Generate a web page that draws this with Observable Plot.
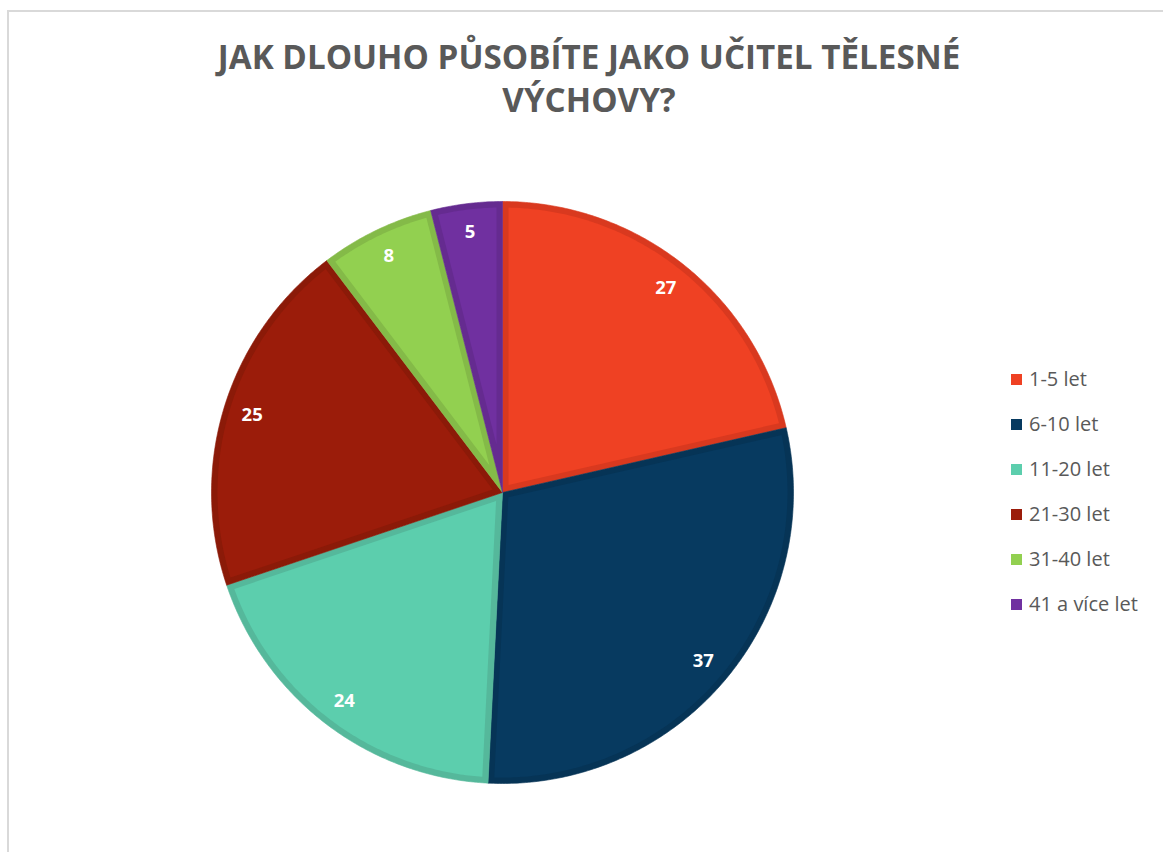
<!DOCTYPE html>
<html>
<head>
<meta charset="utf-8">
<script src="https://cdn.jsdelivr.net/npm/d3@7"></script>
<script src="https://cdn.jsdelivr.net/npm/@observablehq/plot@0.6"></script>
<style>
  html, body { margin: 0; padding: 0; background: #fff; overflow: hidden; }
  #wrap { position: relative; width: 1163px; height: 852px; overflow: hidden; background: #fff; }
  #frame { position: absolute; left: 7px; top: 10px; width: 1300px; height: 1000px; border: 2px solid #d9d9d9; box-sizing: border-box; }
  #title { position: absolute; left: 0; top: 35px; width: 1178px; text-align: center; font-family: "Open Sans", sans-serif; font-weight: 700; font-size: 33.2px; line-height: 43px; color: #595959; }
  #chart { position: absolute; left: 0; top: 0; }
  #legend { position: absolute; left: 1011px; top: 365px; font-family: "Open Sans", sans-serif; font-size: 20px; color: #595959; }
  .item { height: 45px; display: flex; align-items: flex-start; }
  .sw { width: 11px; height: 11px; margin-top: 9px; margin-right: 7px; }
</style>
</head>
<body>
<div id="wrap">
  <div id="frame"></div>
  <div id="chart"></div>
  <div id="title">JAK DLOUHO PŮSOBÍTE JAKO UČITEL TĚLESNÉ<br>VÝCHOVY?</div>
  <div id="legend"></div>
</div>
<script>
// Data
const categories = ["1-5 let", "6-10 let", "11-20 let", "21-30 let", "31-40 let", "41 a více let"];
const values = [27, 37, 24, 25, 8, 5];

// Styles
const fillColors = ["#EF4123", "#073A60", "#5CCEAD", "#9B1C0A", "#92D050", "#7030A0"];
const borderColors = ["#D9391F", "#063456", "#55B89B", "#8B1A08", "#84BA48", "#652B90"];

const R = 291;        // pie radius (px units)
const BORDER = 6;     // inner border width
const LABEL_R = 262;  // label radius

const pie = d3.pie().sort(null).value(d => d.value)(
  categories.map((c, i) => ({cat: c, value: values[i], i}))
);

function pt(a, r) { return [r * Math.sin(a), -r * Math.cos(a)]; }

const outer = [], inner = [], labels = [];
pie.forEach(p => {
  const {i, value} = p.data;
  const a0 = p.startAngle, a1 = p.endAngle;
  const n = Math.max(8, Math.ceil((a1 - a0) / 0.01));
  let pts = [[0, 0]];
  for (let k = 0; k <= n; k++) pts.push(pt(a0 + (a1 - a0) * k / n, R));
  pts.push([0, 0]);
  pts.forEach(([x, y], k) => outer.push({x, y, i, k}));
  const half = (a1 - a0) / 2;
  const apexD = BORDER / Math.sin(half);
  const apex = pt(a0 + half, apexD);
  const ri = R - BORDER;
  const da = Math.asin(BORDER / ri);
  const b0 = a0 + da, b1 = a1 - da;
  let ipts = [apex];
  for (let k = 0; k <= n; k++) ipts.push(pt(b0 + (b1 - b0) * k / n, ri));
  ipts.push(apex);
  ipts.forEach(([x, y], k) => inner.push({x, y, i, k}));
  const [lx, ly] = pt(a0 + half, LABEL_R);
  labels.push({x: lx, y: ly, text: String(value)});
});

const W = 1163, H = 852, CX = 502, CY = 492;

const chart = Plot.plot({
  width: W,
  height: H,
  margin: 0,
  x: {domain: [-CX, W - CX], range: [0, W], axis: null},
  y: {domain: [-CY, H - CY], range: [0, H], axis: null},
  marks: [
    Plot.line(outer, {x: "x", y: "y", z: "i", fill: d => borderColors[d.i], stroke: d => borderColors[d.i], strokeWidth: 0.6, curve: "linear"}),
    Plot.line(inner, {x: "x", y: "y", z: "i", fill: d => fillColors[d.i], stroke: "none", curve: "linear"}),
    Plot.text(labels, {x: "x", y: "y", text: "text", fill: "white", fontSize: 18.5, fontWeight: "bold", fontFamily: "Open Sans, sans-serif"})
  ]
});
document.getElementById("chart").appendChild(chart);

const legend = document.getElementById("legend");
categories.forEach((c, i) => {
  const row = document.createElement("div");
  row.className = "item";
  const sw = document.createElement("div");
  sw.className = "sw";
  sw.style.background = fillColors[i];
  const t = document.createElement("span");
  t.textContent = c;
  row.appendChild(sw);
  row.appendChild(t);
  legend.appendChild(row);
});
</script>
</body>
</html>
